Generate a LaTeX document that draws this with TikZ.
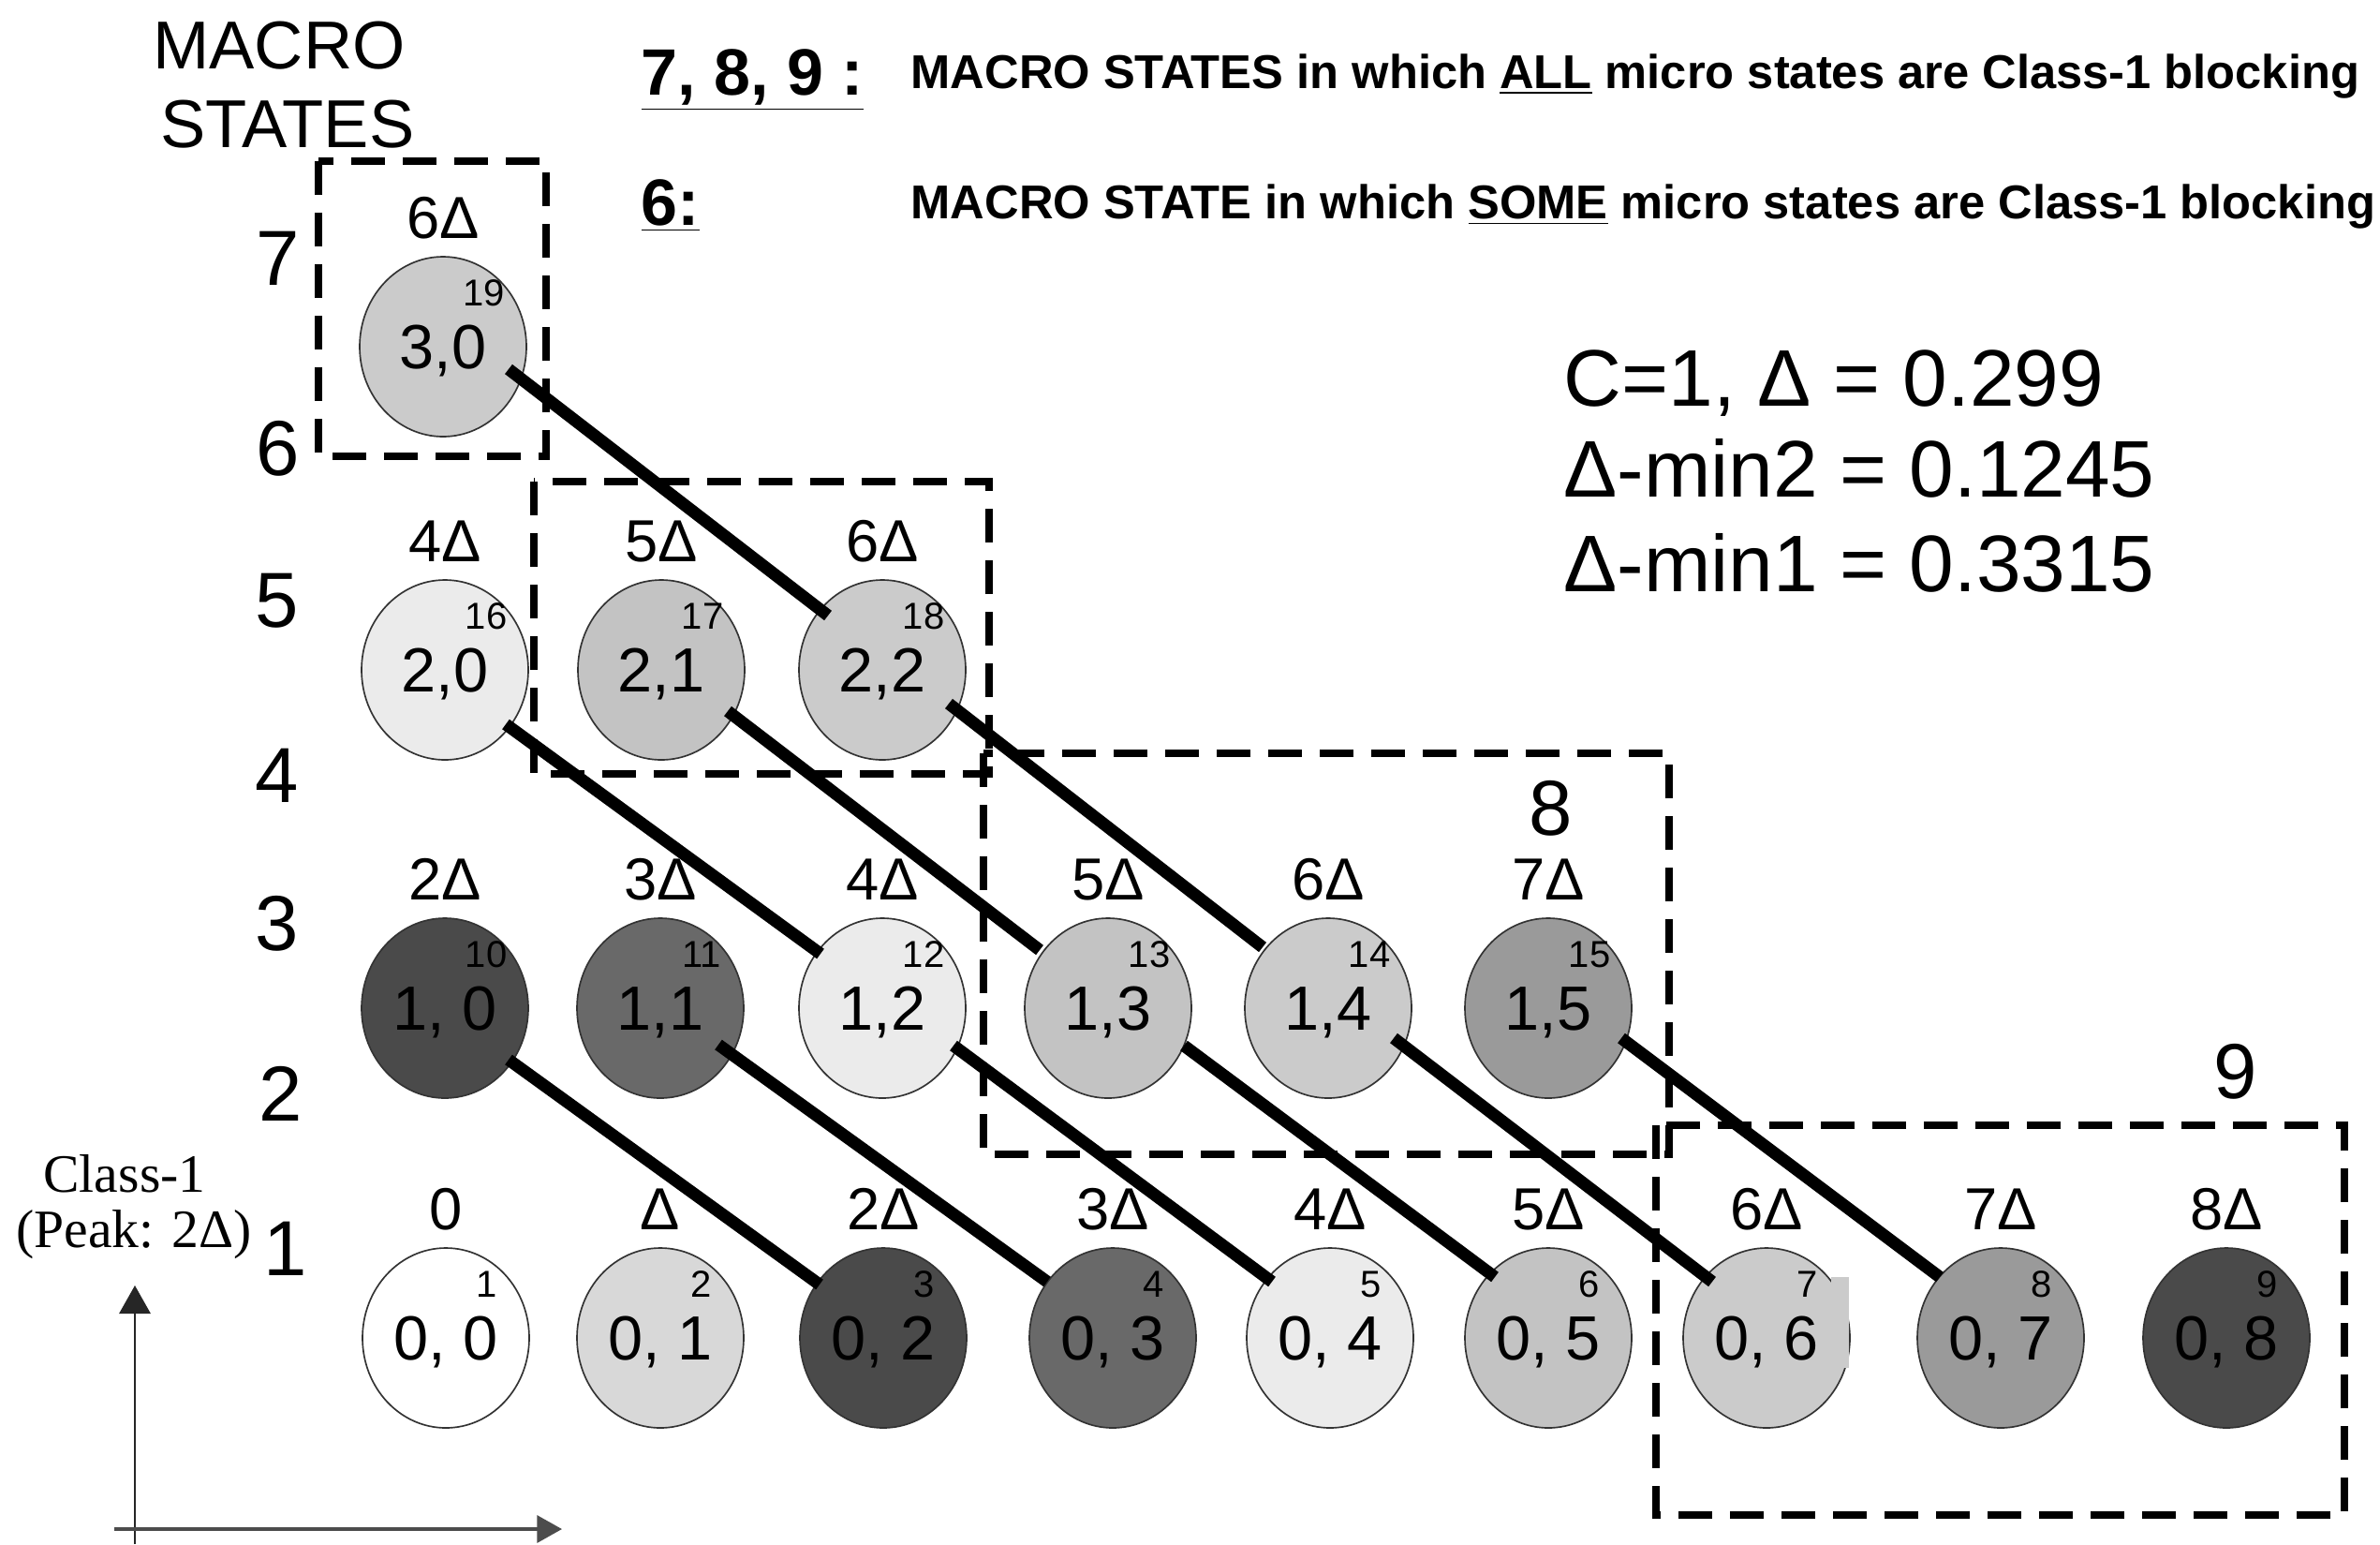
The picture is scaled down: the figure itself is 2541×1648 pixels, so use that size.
\documentclass[tikz,border=0pt]{standalone}
\usepackage{fontspec}
\setmainfont{Liberation Sans}
\newfontfamily\serifface{Liberation Serif}
\usetikzlibrary{shapes.geometric,arrows.meta,calc}

% fill shades by total load (multiples of Delta)
\definecolor{gOne}{HTML}{D8D8D8}
\definecolor{gDark}{HTML}{4A4A4A}
\definecolor{gMid}{HTML}{696969}
\definecolor{gPale}{HTML}{EBEBEB}
\definecolor{gSilver}{HTML}{C3C3C3}
\definecolor{gLight}{HTML}{CBCBCB}
\definecolor{gGrey}{HTML}{9A9A9A}

\tikzset{
  microstate/.style={ellipse, draw=black!80, line width=0.5pt,
    minimum width=53.4pt, minimum height=57.6pt, inner sep=0pt,
    font=\fontsize{20}{20}\selectfont, text height=14.3pt, text depth=0pt},
  costlbl/.style={font=\fontsize{19}{19}\selectfont, inner sep=0pt,
    text height=13.6pt, text depth=0pt},
  idxlbl/.style={font=\fontsize{12}{12}\selectfont, inner sep=0pt,
    text height=8.6pt, text depth=0pt},
  macrolbl/.style={font=\fontsize{25}{25}\selectfont, inner sep=0pt,
    text height=17.9pt, text depth=0pt},
  hdrnum/.style={font=\bfseries\fontsize{21}{21}\selectfont, inner sep=0pt,
    text height=15pt, text depth=0pt, anchor=west},
  hdrtxt/.style={font=\bfseries\fontsize{15.2}{15.2}\selectfont, inner sep=0pt,
    text height=10.9pt, text depth=0pt, anchor=west},
  paramlbl/.style={font=\fontsize{25.7}{25.7}\selectfont, inner sep=0pt,
    text height=18.4pt, text depth=0pt, anchor=west},
  axislbl/.style={font=\serifface\fontsize{17.3}{17.3}\selectfont, inner sep=0pt},
  link/.style={line width=3.9pt, black},
  groupbox/.style={line width=2.3pt, black, dash pattern=on 10.8pt off 5.7pt},
}

% name, x, y, fill, pair, index, cost
\newcommand{\mkstate}[7]{%
  \node[microstate, fill=#4] (#1) at (#2,#3) {#5};
  \node[idxlbl] (#1i) at ($(#1)+(44,-58)$) {#6};
  \node[costlbl] (#1c) at ($(#1)+(0,-138)$) {#7};
}

\begin{document}
\begin{tikzpicture}[x=0.3pt, y=-0.3pt]
\fill[white] (0,0) rectangle (2541,1648);
\useasboundingbox (0,0) rectangle (2541,1648);

% macro state groups
\draw[groupbox] (340,172) rectangle (583,487);
\draw[groupbox] (570,514) rectangle (1056,826);
\draw[groupbox] (1050,804) rectangle (1782,1232);
\draw[groupbox] (1768,1201) rectangle (2503,1617);

% row 1: (0,j)
\mkstate{s00}{476}{1428}{white}{0, 0}{1}{0}
\mkstate{s01}{705}{1428}{gOne}{0, 1}{2}{Δ}
\mkstate{s02}{943}{1428}{gDark}{0, 2}{3}{2Δ}
\mkstate{s03}{1188}{1428}{gMid}{0, 3}{4}{3Δ}
\mkstate{s04}{1420}{1428}{gPale}{0, 4}{5}{4Δ}
\mkstate{s05}{1653}{1428}{gSilver}{0, 5}{6}{5Δ}
\mkstate{s06}{1886}{1428}{gLight}{0, 6}{7}{6Δ}
\fill[gLight] (1955,1363) rectangle (1974,1460);
\mkstate{s07}{2136}{1428}{gGrey}{0, 7}{8}{7Δ}
\mkstate{s08}{2377}{1428}{gDark}{0, 8}{9}{8Δ}

% row 2: (1,j)
\mkstate{s10}{475}{1076}{gDark}{1, 0}{10}{2Δ}
\mkstate{s11}{705}{1076}{gMid}{1,1}{11}{3Δ}
\mkstate{s12}{942}{1076}{gPale}{1,2}{12}{4Δ}
\mkstate{s13}{1183}{1076}{gSilver}{1,3}{13}{5Δ}
\mkstate{s14}{1418}{1076}{gLight}{1,4}{14}{6Δ}
\mkstate{s15}{1653}{1076}{gGrey}{1,5}{15}{7Δ}

% row 3: (2,j)
\mkstate{s20}{475}{715}{gPale}{2,0}{16}{4Δ}
\mkstate{s21}{706}{715}{gSilver}{2,1}{17}{5Δ}
\mkstate{s22}{942}{715}{gLight}{2,2}{18}{6Δ}

% row 4: (3,0)
\mkstate{s30}{473}{370}{gLight}{3,0}{19}{6Δ}

% equal-load transitions
\draw[link] ($(s30)+(70,24)$) -- ($(s22)+(-58,-58)$);
\draw[link] ($(s20)+(65,58)$) -- ($(s12)+(-66,-58)$);
\draw[link] ($(s21)+(71,44)$) -- ($(s13)+(-73,-62)$);
\draw[link] ($(s22)+(71,36)$) -- ($(s14)+(-70,-65)$);
\draw[link] ($(s10)+(68,55)$) -- ($(s02)+(-68,-57)$);
\draw[link] ($(s11)+(62,39)$) -- ($(s03)+(-70,-60)$);
\draw[link] ($(s12)+(76,40)$) -- ($(s04)+(-62,-60)$);
\draw[link] ($(s13)+(81,40)$) -- ($(s05)+(-57,-65)$);
\draw[link] ($(s14)+(70,32)$) -- ($(s06)+(-58,-60)$);
\draw[link] ($(s15)+(78,32)$) -- ($(s07)+(-65,-65)$);

% macro state numbers
\node[font=\fontsize{21.7}{21.7}\selectfont, inner sep=0pt] (mtitleA) at (298,49) {MACRO};
\node[font=\fontsize{21.7}{21.7}\selectfont, inner sep=0pt] (mtitleB) at (307,133) {STATES};
\node[macrolbl] (m7) at (297,275) {7};
\node[macrolbl] (m6) at (297,478) {6};
\node[macrolbl] (m5) at (296,640) {5};
\node[macrolbl] (m4) at (296,827) {4};
\node[macrolbl] (m3) at (296,985) {3};
\node[macrolbl] (m2) at (300,1167) {2};
\node[macrolbl] (m1) at (305,1332) {1};
\node[macrolbl] (m8) at (1656,862) {8};
\node[macrolbl] (m9) at (2387,1143) {9};

% legend
\node[hdrnum] (h1) at (684,76) {\underline{7, 8, 9 :}};
\node[hdrtxt] (h1t) at (972,76) {MACRO STATES in which \underline{ALL} micro states are Class-1 blocking};
\node[hdrnum] (h2) at (684,215) {\underline{6:}};
\node[hdrtxt] (h2t) at (972,215) {MACRO STATE in which \underline{SOME} micro states are Class-1 blocking};

% parameters
\node[paramlbl] (p1) at (1669,403) {C=1, Δ = 0.299};
\node[paramlbl] (p2) at (1669,500) {Δ-min2 = 0.1245};
\node[paramlbl] (p3) at (1669,601) {Δ-min1 = 0.3315};

% axes
\node[axislbl] (cls) at (133,1253) {Class-1};
\node[axislbl] (peak) at (143,1318) {(Peak: 2Δ)};
\coordinate (vbase) at (144,1648);
\coordinate (vtip) at (144,1372);
\coordinate (hbase) at (122,1632);
\coordinate (htip) at (600,1632);
\draw[-{Triangle[length=9pt,width=10pt]}, line width=0.6pt, black!85] (vbase) -- (vtip);
\draw[-{Triangle[length=8pt,width=8.7pt]}, line width=1pt, black!70] (hbase) -- (htip);
\end{tikzpicture}
\end{document}
